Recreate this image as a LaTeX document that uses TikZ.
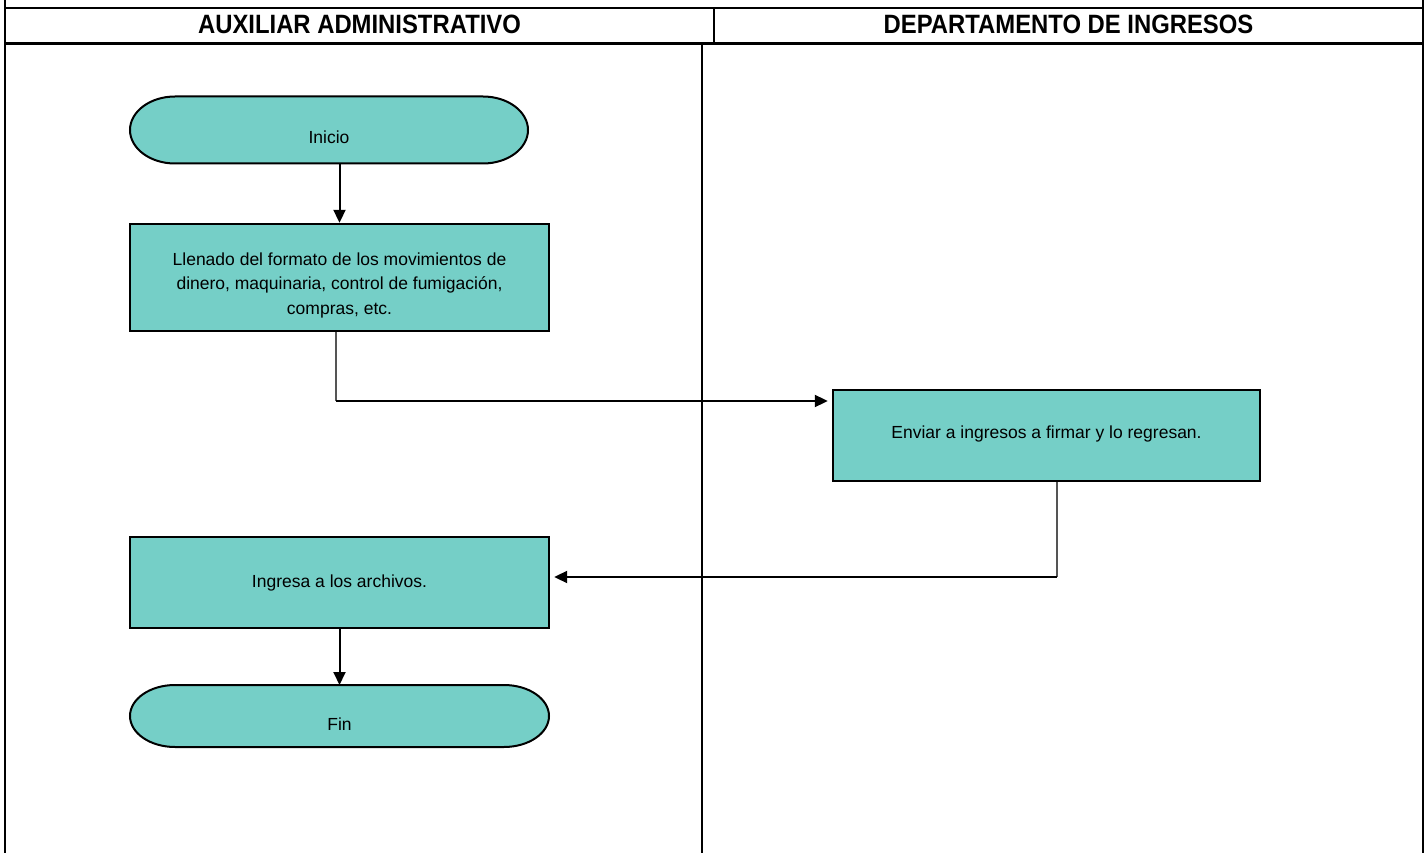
\documentclass[tikz,border=0pt]{standalone}
\usepackage{fontspec}
\setmainfont{Liberation Sans}
\newfontfamily\hdrfont[FakeStretch=0.9]{Liberation Sans}
\usetikzlibrary{arrows.meta, positioning, calc, backgrounds}
\definecolor{boxteal}{RGB}{117,207,199}
\definecolor{linegray}{RGB}{85,85,85}
\tikzset{
  procbox/.style={rectangle, draw=black, fill=boxteal, line width=2.4pt, inner sep=0pt},
  termbox/.style={rectangle, inner sep=0pt, outer sep=0pt},
  termline/.style={draw=black, fill=boxteal, line width=2pt},
  boxlabel/.style={align=center, inner sep=0pt, font=\fontsize{17.5}{24.5}\selectfont},
  hdrtext/.style={font=\hdrfont\bfseries\fontsize{26.5}{26.5}\selectfont, inner sep=0pt},
  frameline/.style={line width=2pt, color=black},
  flowarrow/.style={-{Triangle[length=13pt, width=12pt]}, line width=2pt, color=black},
  thinline/.style={line width=1.2pt, color=linegray}
}
% stadium outline with elliptic ends round a node
\newcommand{\termoutline}[2]{%
  \draw[termline] ($(#1.north west)+(45,0)$) -- ($(#1.north east)+(-45,0)$)
    arc[start angle=90, end angle=-90, x radius=45pt, y radius=#2pt]
    -- ($(#1.south west)+(45,0)$)
    arc[start angle=270, end angle=90, x radius=45pt, y radius=#2pt] -- cycle;}

\begin{document}
\begin{tikzpicture}[x=1pt, y=-1pt]
  \useasboundingbox (0,0) rectangle (1428,853);

  % swimlane frame
  \draw[frameline] (5,0) -- (5,853);
  \draw[frameline] (1423,0) -- (1423,853);
  \draw[frameline] (5,8) -- (1423,8);
  \draw[frameline, line width=3pt] (5,44) -- (1423,44);
  \draw[frameline] (714,8) -- (714,44);
  \draw[frameline] (702,44) -- (702,853);

  \node[hdrtext] (auxiliar) at (359.5,24) {AUXILIAR ADMINISTRATIVO};
  \node[hdrtext] (ingresos) at (1068.5,24) {DEPARTAMENTO DE INGRESOS};

  % steps
  \node[termbox, minimum width=398pt, minimum height=67pt,
    label={[boxlabel, yshift=-7pt]center:Inicio}] (inicio) at (329,130) {};
  \node[procbox, minimum width=419pt, minimum height=107pt,
    label={[boxlabel, yshift=-7.5pt]center:{Llenado del formato de los movimientos de\\dinero, maquinaria, control de fumigación,\\compras, etc.}}]
    (llenado) at (339.5,277.5) {};
  \node[procbox, minimum width=427pt, minimum height=91pt,
    label={[boxlabel, yshift=1.5pt]center:Enviar a ingresos a firmar y lo regresan.}]
    (enviar) at (1046.5,435.5) {};
  \node[procbox, minimum width=419pt, minimum height=91pt,
    label={[boxlabel]center:Ingresa a los archivos.}] (ingresa) at (339.5,582.5) {};
  \node[termbox, minimum width=419pt, minimum height=62pt,
    label={[boxlabel, yshift=-8.5pt]center:Fin}] (fin) at (339.5,716) {};

  \begin{scope}[on background layer]
    \termoutline{inicio}{33.5}
    \termoutline{fin}{31}
  \end{scope}

  % connectors
  \coordinate (c1) at (336,401);
  \coordinate (c2) at (1057,577);
  \draw[flowarrow] (inicio.south -| llenado.north) -- (llenado.north);
  \draw[thinline] (llenado.south -| c1) -- (c1);
  \draw[flowarrow, shorten >=4pt] (c1) -- (c1 -| enviar.west);
  \draw[thinline] (enviar.south -| c2) -- (c2);
  \draw[flowarrow, shorten >=4pt] (c2) -- (c2 -| ingresa.east);
  \draw[flowarrow] (ingresa.south) -- (fin.north);
\end{tikzpicture}
\end{document}
